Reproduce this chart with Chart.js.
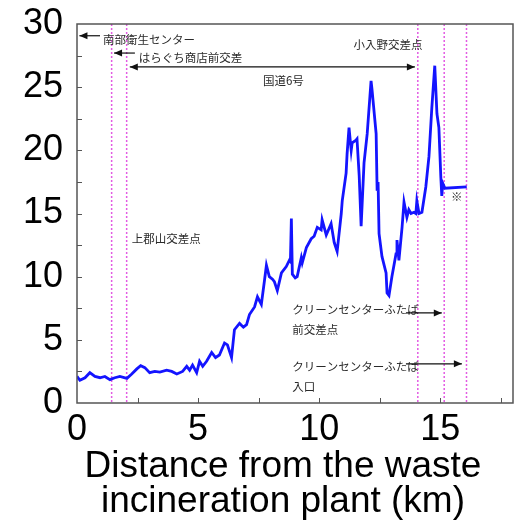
<!DOCTYPE html>
<html>
<head>
<meta charset="utf-8">
<script src="https://cdn.jsdelivr.net/npm/chart.js@4/dist/chart.umd.min.js"></script>
<style>
html,body{margin:0;padding:0;background:#fff}
canvas{display:block}
</style>
</head>
<body>
<canvas id="chart" width="519" height="523"></canvas>
<script>

// air dose rate along the route
const distanceKm = [0.00,0.12,0.33,0.53,0.74,0.95,1.15,1.36,1.56,1.77,2.06,2.26,2.47,2.63,2.80,3.00,3.21,3.42,3.70,3.91,
4.12,4.36,4.53,4.65,4.77,4.94,5.06,5.19,5.35,5.56,5.72,5.88,6.09,6.21,6.38,6.50,6.71,6.87,7.00,7.12,
7.33,7.45,7.61,7.74,7.82,7.94,8.07,8.15,8.27,8.44,8.64,8.77,8.81,8.85,8.89,9.01,9.09,9.26,9.30,9.47,
9.67,9.79,9.92,10.08,10.12,10.29,10.49,10.62,10.74,10.91,10.95,11.11,11.15,11.23,11.32,11.36,11.52,11.56,11.65,11.73,
11.85,11.98,12.14,12.18,12.35,12.39,12.43,12.47,12.59,12.76,12.80,12.88,13.00,13.17,13.21,13.29,13.42,13.50,13.62,13.70,
13.79,13.91,13.99,14.03,14.12,14.24,14.40,14.53,14.65,14.77,14.86,14.94,15.02,15.06,15.10,15.19,16.09]
const doseRate = [2.1,1.8,2.0,2.4,2.1,2.0,2.1,1.85,2.0,2.1,1.95,2.3,2.7,2.95,2.8,2.4,2.5,2.45,2.6,2.5,
2.3,2.5,2.9,2.6,3.0,2.4,3.3,2.9,3.3,4.0,3.6,3.8,4.75,4.6,3.6,5.8,6.3,6.0,6.2,7.0,
7.6,8.4,7.8,9.7,10.9,10.0,9.8,9.6,8.9,10.3,10.8,11.3,11.2,14.6,10.2,9.9,10.0,11.5,11.1,12.3,
13.0,13.2,13.9,13.7,14.5,13.3,14.2,12.7,12.0,15.0,16.0,18.2,19.7,21.8,20.0,20.6,20.8,20.9,18.0,14.0,
19.0,21.3,25.5,24.8,21.3,16.8,17.5,13.4,11.6,10.3,8.7,8.5,10.0,11.8,12.9,11.3,13.9,15.9,14.7,15.3,
15.0,15.1,15.0,16.0,15.0,15.1,17.1,19.5,23.4,26.7,22.9,21.8,17.9,16.4,17.4,17.0,17.1]

const xTicks = [0,5,10,15]
const yTicks = [0,5,10,15,20,25,30]
const minorStep = 2.5
const landmarkKm = [1.43,2.05,14.07,15.16,16.08]
const xTitle = ["Distance from the waste","incineration plant (km)"]

// text notes and arrows, placed in km / value units
const notes = [
{text:"南部衛生センター", km:1.07, v:28.75, align:"left"},
{text:"はらぐち商店前交差", km:2.55, v:27.3, align:"left"},
{text:"国道6号", km:8.52, v:25.5, align:"center"},
{text:"小入野交差点", km:12.84, v:28.4, align:"center"},
{text:"上郡山交差点", km:2.26, v:13.05, align:"left"},
{text:"クリーンセンターふたば", km:8.89, v:7.36, align:"left"},
{text:"前交差点", km:8.89, v:5.79, align:"left"},
{text:"クリーンセンターふたば", km:8.89, v:2.87, align:"left"},
{text:"入口", km:8.89, v:1.29, align:"left"},
{text:"※", km:15.68, v:16.3, align:"center"}
]
const arrows = [
{from:0.95, to:0.1, v:29.07, both:false},
{from:2.39, to:1.53, v:27.7, both:false},
{from:2.18, to:13.95, v:26.6, both:true},
{from:13.58, to:15.06, v:7.13, both:false},
{from:13.58, to:15.89, v:3.1, both:false}
]

Chart.defaults.font.family = "'Liberation Sans', Arial, sans-serif"

function head(ctx, x, y, dir){
ctx.beginPath()
ctx.moveTo(x, y)
ctx.lineTo(x - dir*8, y - 3.5)
ctx.lineTo(x - dir*8, y + 3.5)
ctx.closePath()
ctx.fill()
}

const decor = {
id: "decor",
beforeDatasetsDraw(chart){
let {ctx, chartArea:a, scales:{x}} = chart
ctx.save()
ctx.strokeStyle = "#e35be3"
ctx.lineWidth = 1.5
ctx.setLineDash([2,2])
landmarkKm.forEach(k=>{
let px = x.getPixelForValue(k)
ctx.beginPath()
ctx.moveTo(px, a.top)
ctx.lineTo(px, a.bottom)
ctx.stroke()
})
ctx.restore()
},
afterDraw(chart){
let {ctx, chartArea:a, scales:{x,y}} = chart
ctx.save()

// frame and inward ticks
ctx.strokeStyle = "#555"
ctx.lineWidth = 1.5
ctx.strokeRect(a.left, a.top, a.right-a.left, a.bottom-a.top)
ctx.lineWidth = 1
for(let v=minorStep; v<30; v+=minorStep){
let py = Math.round(y.getPixelForValue(v))+0.5
ctx.beginPath(); ctx.moveTo(a.left, py); ctx.lineTo(a.left+5, py); ctx.stroke()
}
for(let k=minorStep; k<18; k+=minorStep){
let px = Math.round(x.getPixelForValue(k))+0.5
ctx.beginPath(); ctx.moveTo(px, a.bottom); ctx.lineTo(px, a.bottom-5); ctx.stroke()
}

// notes
ctx.fillStyle = "#2a2a2a"
ctx.font = "11.5px 'Noto Sans CJK JP'"
ctx.textBaseline = "middle"
notes.forEach(n=>{
ctx.textAlign = n.align
ctx.fillText(n.text, x.getPixelForValue(n.km), y.getPixelForValue(n.v))
})

ctx.strokeStyle = "#111"
ctx.fillStyle = "#111"
ctx.lineWidth = 1.2
arrows.forEach(r=>{
let x1 = x.getPixelForValue(r.from), x2 = x.getPixelForValue(r.to), py = y.getPixelForValue(r.v)
ctx.beginPath(); ctx.moveTo(x1, py); ctx.lineTo(x2, py); ctx.stroke()
let dir = Math.sign(x2-x1)
head(ctx, x2, py, dir)
if(r.both) head(ctx, x1, py, -dir)
})

// x axis title
ctx.fillStyle = "#000"
ctx.font = "37px 'Liberation Sans', Arial, sans-serif"
ctx.textAlign = "center"
ctx.textBaseline = "alphabetic"
let cx = (a.left+a.right)/2 - 12
ctx.fillText(xTitle[0], cx, a.bottom+74)
ctx.fillText(xTitle[1], cx, a.bottom+109)
ctx.restore()
}
}

new Chart(document.getElementById("chart"), {
type: "line",
data: {
datasets: [{
data: distanceKm.map((k,i)=>({x:k, y:doseRate[i]})),
borderColor: "#1414ff",
borderWidth: 2.8,
pointRadius: 0,
tension: 0,
fill: false
}]
},
options: {
responsive: false,
animation: false,
layout: {padding: {top: 24, right: 6, left: 0, bottom: 0}},
plugins: {legend: {display: false}, tooltip: {enabled: false}},
scales: {
x: {
type: "linear", min: 0, max: 18,
grid: {display: false}, border: {display: false},
afterBuildTicks: s => { s.ticks = xTicks.map(v=>({value:v})) },
afterFit: s => { s.height = 120; s.paddingLeft = 0; s.paddingRight = 0 },
ticks: {color: "#000", font: {size: 36}, padding: -3, maxRotation: 0, autoSkip: false}
},
y: {
min: 0, max: 30,
grid: {display: false}, border: {display: false},
afterBuildTicks: s => { s.ticks = yTicks.map(v=>({value:v})) },
afterFit: s => { s.width = 77; s.paddingTop = 0; s.paddingBottom = 0 },
ticks: {color: "#000", font: {size: 36}, padding: 6, autoSkip: false}
}
}
},
plugins: [decor]
})

</script>
</body>
</html>
